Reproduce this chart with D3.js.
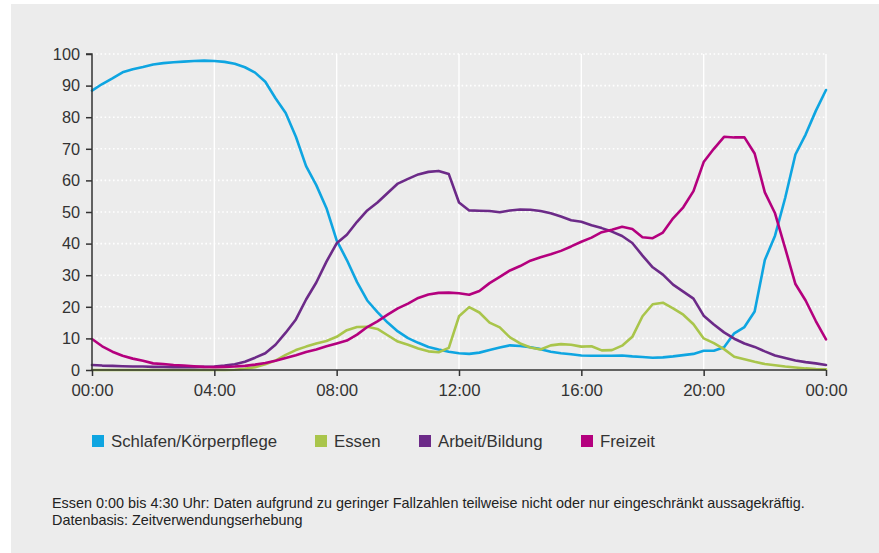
<!DOCTYPE html>
<html>
<head>
<meta charset="utf-8">
<script src="https://cdn.jsdelivr.net/npm/d3@7/dist/d3.min.js"></script>
<style>
  html, body { margin: 0; padding: 0; background: #ffffff; }
  svg { display: block; font-family: "Liberation Sans", Arial, Helvetica, sans-serif; }
</style>
</head>
<body>
<svg id="chart" width="879" height="553"></svg>
<script>
// Time grid in minutes (every 20 minutes, 00:00 to 24:00)
const minutes = d3.range(0, 1441, 20);

const schlafen = [88.4,90.5,92.3,94.2,95.2,95.9,96.7,97.1,97.4,97.6,97.8,97.9,97.8,97.5,96.9,95.8,94.1,91.2,
  86.0,81.3,73.8,64.5,58.5,51.2,41.0,34.8,27.8,22.0,18.3,15.0,12.2,10.1,8.6,7.3,6.5,5.8,
  5.3,5.1,5.5,6.3,7.1,7.8,7.6,7.2,6.6,5.8,5.3,5.0,4.6,4.5,4.5,4.5,4.6,4.3,
  4.1,3.9,4.0,4.3,4.7,5.1,6.1,6.1,7.2,11.6,13.6,18.5,34.8,42.5,54.5,68.2,74.5,82.0,88.6];

const essen = [0,0,0,0,0,0,0,0,0,0,0,0,0,0,0.1,0.4,0.9,1.8,
  3.0,4.8,6.3,7.4,8.4,9.2,10.5,12.6,13.6,13.7,13.0,11.0,9.0,8.0,6.8,5.9,5.6,7.0,
  17.0,19.9,18.2,15.0,13.5,10.3,8.4,7.1,6.5,7.8,8.2,8.0,7.4,7.5,6.2,6.3,7.7,10.5,
  17.0,20.8,21.3,19.5,17.5,14.5,10.0,8.5,6.6,4.2,3.4,2.6,1.9,1.5,1.1,0.8,0.5,0.3,0.2];

const arbeit = [1.6,1.4,1.3,1.2,1.1,1.1,1.0,1.0,0.9,0.9,0.9,1.0,1.1,1.4,1.8,2.6,3.9,5.3,
  8.0,11.8,16.0,22.3,27.7,34.3,40.1,42.8,46.9,50.5,53.0,56.0,59.0,60.5,61.9,62.7,63.0,62.0,
  53.0,50.5,50.4,50.3,49.9,50.5,50.8,50.7,50.3,49.6,48.6,47.4,46.9,45.8,44.9,43.8,42.4,40.2,
  36.2,32.5,30.2,27.0,24.8,22.6,17.2,14.4,11.9,9.9,8.4,7.3,5.9,4.6,3.8,3.0,2.5,2.1,1.6];

const freizeit = [9.8,7.5,5.8,4.5,3.6,2.9,2.1,1.9,1.6,1.4,1.2,1.0,0.9,1.0,1.1,1.3,1.7,2.2,
  2.9,3.8,4.7,5.7,6.5,7.5,8.4,9.3,11.2,13.6,15.4,17.5,19.5,21.0,22.8,23.9,24.4,24.5,
  24.3,23.8,25.0,27.5,29.5,31.5,32.9,34.6,35.7,36.6,37.7,39.1,40.6,41.9,43.6,44.4,45.3,44.6,
  42.0,41.7,43.5,48.0,51.5,56.6,65.8,70.0,73.8,73.6,73.6,68.5,56.2,49.6,38.5,27.2,22.0,15.5,9.7];

const seriesNames = ["Schlafen/Körperpflege", "Essen", "Arbeit/Bildung", "Freizeit"];
const seriesColors = ["#0ea5e1", "#a9c54b", "#6c2a88", "#b4007e"];
const seriesValues = [schlafen, essen, arbeit, freizeit];

const xTickMinutes = [0, 240, 480, 720, 960, 1200, 1440];
const xTickLabels = ["00:00", "04:00", "08:00", "12:00", "16:00", "20:00", "00:00"];
const yTicks = [0, 10, 20, 30, 40, 50, 60, 70, 80, 90, 100];

const footnotes = [
  "Essen 0:00 bis 4:30 Uhr: Daten aufgrund zu geringer Fallzahlen teilweise nicht oder nur eingeschränkt aussagekräftig.",
  "Datenbasis: Zeitverwendungserhebung"
];

const svg = d3.select("#chart");
const W = 879, H = 553;

// panel background
svg.append("rect").attr("x", 11).attr("y", 4).attr("width", W - 11).attr("height", H - 4).attr("fill", "#ececec");

const x = d3.scaleLinear().domain([0, 1440]).range([92, 826]);
const y = d3.scaleLinear().domain([0, 100]).range([370, 54]);

// horizontal dotted gridlines
svg.append("g").selectAll("line")
  .data(yTicks.filter(d => d > 0))
  .join("line")
  .attr("x1", x(0)).attr("x2", x(1440))
  .attr("y1", d => y(d)).attr("y2", d => y(d))
  .attr("stroke", "#ffffff").attr("stroke-width", 1.6)
  .attr("stroke-dasharray", "1.6,2.6");

// vertical solid gridlines
svg.append("g").selectAll("line")
  .data(xTickMinutes.filter(d => d > 0))
  .join("line")
  .attr("x1", d => x(d)).attr("x2", d => x(d))
  .attr("y1", y(100)).attr("y2", y(0))
  .attr("stroke", "#ffffff").attr("stroke-width", 1.4);

// series lines
const line = d3.line()
  .x((d, i) => x(minutes[i]))
  .y(d => y(d));

const drawOrder = [0, 1, 2, 3];
svg.append("g").selectAll("path")
  .data(drawOrder)
  .join("path")
  .attr("d", k => line(seriesValues[k]))
  .attr("fill", "none")
  .attr("stroke", k => seriesColors[k])
  .attr("stroke-width", 2.6)
  .attr("stroke-linejoin", "round")
  .attr("stroke-linecap", "round");

// axes
const yAxis = d3.axisLeft(y).tickValues(yTicks).tickSize(6).tickPadding(6);
const gy = svg.append("g").attr("transform", `translate(${x(0)},0)`).call(yAxis);
gy.select(".domain").attr("stroke", "#333").attr("stroke-width", 1.5).attr("d", `M-6,${y(100)}H0V${y(0)}`);
gy.selectAll(".tick line").attr("stroke", "#333").attr("stroke-width", 1.5);
gy.selectAll(".tick text").attr("fill", "#333").attr("font-size", 16.3).attr("font-family", "Liberation Sans, Arial, sans-serif");

const xAxis = d3.axisBottom(x).tickValues(xTickMinutes).tickFormat((d, i) => xTickLabels[i]).tickSize(6).tickPadding(8);
const gx = svg.append("g").attr("transform", `translate(0,${y(0)})`).call(xAxis);
gx.select(".domain").attr("stroke", "#333").attr("stroke-width", 1.5).attr("d", `M${x(0)},0H${x(1440)}`);
gx.selectAll(".tick line").attr("stroke", "#333").attr("stroke-width", 1.5);
gx.selectAll(".tick text").attr("fill", "#333").attr("font-size", 16.8).attr("font-family", "Liberation Sans, Arial, sans-serif");

// legend
const legendX = [92, 315, 419, 581];
const lg = svg.append("g").selectAll("g")
  .data(seriesNames)
  .join("g")
  .attr("transform", (d, i) => `translate(${legendX[i]},435)`);
lg.append("rect").attr("width", 12).attr("height", 12).attr("fill", (d, i) => seriesColors[i]);
lg.append("text").attr("x", 19).attr("y", 11.8).attr("font-size", 16.8).attr("fill", "#333").text(d => d);

// footnotes
svg.append("g").selectAll("text")
  .data(footnotes)
  .join("text")
  .attr("x", 52).attr("y", (d, i) => 508 + i * 17)
  .attr("font-size", 14.4).attr("fill", "#222")
  .text(d => d);
</script>
</body>
</html>
